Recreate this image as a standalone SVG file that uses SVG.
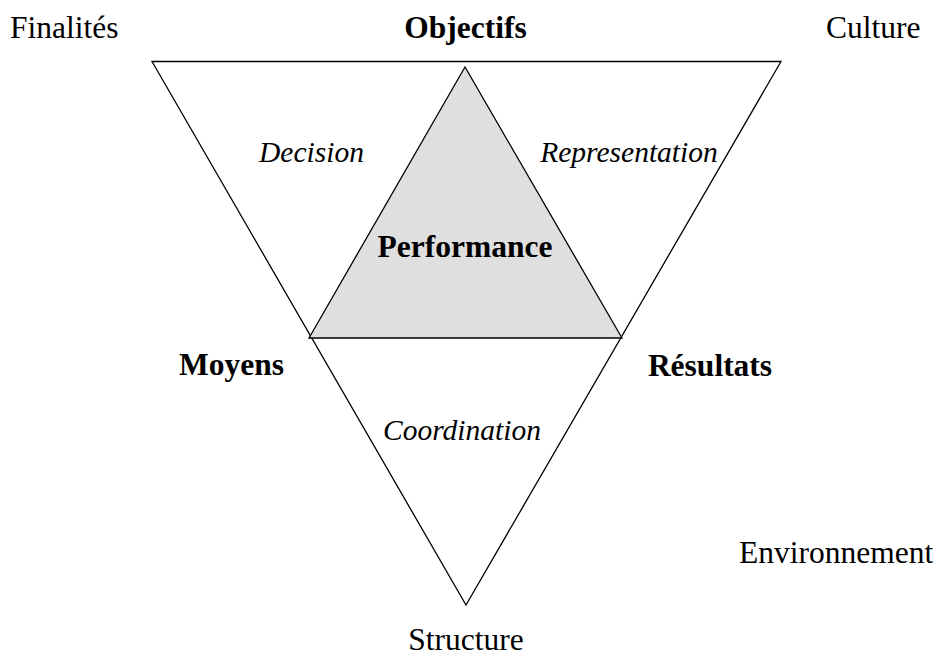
<svg xmlns="http://www.w3.org/2000/svg" width="938" height="659" viewBox="0 0 938 659">
<style>
.t{font-family:"Liberation Serif","Times New Roman",serif;font-size:31.5px;fill:#000}
.b{font-weight:bold}
.i{font-style:italic;font-size:29.5px}
.s{stroke:#000;stroke-width:1.3;stroke-linejoin:miter}
</style>
<rect width="938" height="659" fill="#fff"/>
<g id="outer-triangle">
<polygon class="s" points="152,61.5 781,61.5 466,605" fill="none"/>
</g>
<g id="performance-triangle">
<polygon class="s" points="465,67 309,338 622,338" fill="#dfdfdf"/>
</g>
<g id="labels-corners">
<text id="finalites" class="t" x="10" y="38">Finalités</text>
<text id="culture" class="t" x="826" y="38">Culture</text>
<text id="environnement" class="t" x="739" y="563">Environnement</text>
<text id="structure" class="t" x="466" y="650" text-anchor="middle">Structure</text>
</g>
<g id="node-objectifs"><text class="t b" x="465.5" y="38" text-anchor="middle">Objectifs</text></g>
<g id="node-moyens"><text class="t b" x="231.5" y="375" text-anchor="middle">Moyens</text></g>
<g id="node-resultats"><text class="t b" x="710" y="376" text-anchor="middle">Résultats</text></g>
<g id="node-performance"><text class="t b" x="465" y="257" text-anchor="middle">Performance</text></g>
<g id="connectors">
<text class="t i" x="311.5" y="162" text-anchor="middle">Decision</text>
<text class="t i" x="629" y="162" text-anchor="middle">Representation</text>
<text class="t i" x="462" y="440" text-anchor="middle">Coordination</text>
</g>
</svg>
